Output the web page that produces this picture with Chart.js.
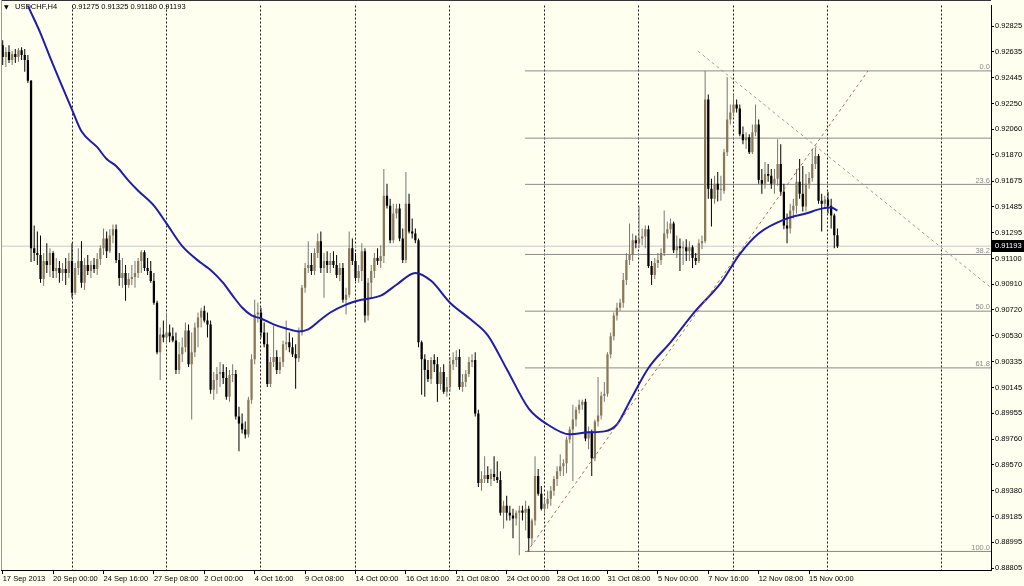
<!DOCTYPE html>
<html>
<head>
<meta charset="utf-8">
<script src="https://cdn.jsdelivr.net/npm/chart.js@4.4.1/dist/chart.umd.min.js"></script>
<style>
  html, body { margin: 0; padding: 0; background: #fffff0; }
</style>
</head>
<body>
<canvas id="chart" width="1024" height="586"></canvas>
<script>
// header
const symbolTitle = 'USDCHF,H4';
const titleQuote = '0.91275 0.91325 0.91180 0.91193';

// time axis: bar index of each label, and its text
const timeTickBars = [0, 16, 32, 48, 64, 80, 96, 112, 128, 144, 160, 176, 192, 208, 224, 240, 256];
const timeTickLabels = ['17 Sep 2013', '20 Sep 00:00', '24 Sep 16:00', '27 Sep 08:00', '2 Oct 00:00',
  '4 Oct 16:00', '9 Oct 08:00', '14 Oct 00:00', '16 Oct 16:00', '21 Oct 08:00', '24 Oct 00:00',
  '28 Oct 16:00', '31 Oct 08:00', '5 Nov 00:00', '7 Nov 16:00', '12 Nov 08:00', '15 Nov 00:00'];
// dashed vertical grid (bar index)
const gridBars = [22, 52, 82, 112, 142, 172, 202, 232, 262, 298];

// price axis
const priceTicks = [0.92825, 0.92635, 0.92445, 0.92250, 0.92060, 0.91870, 0.91675, 0.91485, 0.91295,
  0.91100, 0.90910, 0.90720, 0.90530, 0.90335, 0.90145, 0.89955, 0.89760, 0.89570, 0.89380,
  0.89185, 0.88995, 0.88805];

// H4 candles, one value per bar (bar 0 = 17 Sep 08:00)
const openP = [
  0.92685, 0.92597, 0.92634, 0.92575, 0.92619, 0.92597, 0.92648, 0.92612, 0.92575, 0.92420,
  0.91178, 0.91142, 0.91127, 0.90950, 0.91083, 0.91053, 0.91142, 0.91009, 0.91031, 0.90994,
  0.91024, 0.90994, 0.91083, 0.90848, 0.91031, 0.91083, 0.90921, 0.91053, 0.91009, 0.91053,
  0.91024, 0.91098, 0.91178, 0.91251, 0.91156, 0.91273, 0.91318, 0.91091, 0.90957, 0.90994,
  0.90906, 0.90950, 0.90965, 0.90994, 0.91083, 0.91149, 0.91031, 0.91009, 0.90935, 0.90774,
  0.90407, 0.90538, 0.90516, 0.90553, 0.90524, 0.90494, 0.90274, 0.90392, 0.90443, 0.90568,
  0.90318, 0.90407, 0.90590, 0.90664, 0.90715, 0.90642, 0.90612, 0.90127, 0.90200, 0.90244,
  0.90259, 0.90215, 0.90076, 0.90237, 0.90244, 0.89929, 0.89877, 0.89833, 0.89796, 0.90054,
  0.90355, 0.90686, 0.90701, 0.90553, 0.90465, 0.90171, 0.90333, 0.90370, 0.90274, 0.90333,
  0.90465, 0.90480, 0.90443, 0.90392, 0.90362, 0.90553, 0.90884, 0.91031, 0.91053, 0.91009,
  0.91142, 0.91229, 0.91031, 0.91083, 0.91053, 0.91083, 0.91053, 0.90979, 0.91031, 0.90796,
  0.90833, 0.91178, 0.91083, 0.90957, 0.91009, 0.91156, 0.90679, 0.90921, 0.91009, 0.91105,
  0.91083, 0.91120, 0.91568, 0.91494, 0.91237, 0.91436, 0.91472, 0.91251, 0.91091, 0.91509,
  0.91303, 0.91288, 0.91237, 0.90480, 0.90355, 0.90274, 0.90208, 0.90348, 0.90318, 0.90171,
  0.90259, 0.90113, 0.90149, 0.90318, 0.90348, 0.90370, 0.90149, 0.90186, 0.90244, 0.90333,
  0.90348, 0.89951, 0.89436, 0.89465, 0.89495, 0.89465, 0.89502, 0.89480, 0.89458, 0.89216,
  0.89267, 0.89216, 0.89194, 0.89172, 0.89216, 0.89231, 0.89216, 0.89245, 0.89025, 0.89157,
  0.89487, 0.89356, 0.89245, 0.89282, 0.89319, 0.89378, 0.89465, 0.89524, 0.89561, 0.89583,
  0.89759, 0.89833, 0.89907, 0.89980, 0.90017, 0.90039, 0.89767, 0.89818, 0.89620, 0.89892,
  0.89936, 0.90083, 0.90098, 0.90392, 0.90524, 0.90679, 0.90737, 0.90774, 0.90943, 0.91091,
  0.91127, 0.91237, 0.91215, 0.91251, 0.91266, 0.91318, 0.91046, 0.90979, 0.91068, 0.91091,
  0.91142, 0.91288, 0.91318, 0.91362, 0.91164, 0.91193, 0.91178, 0.91186, 0.91156, 0.91186,
  0.91105, 0.91083, 0.91215, 0.91229, 0.92281, 0.91619, 0.91546, 0.91656, 0.91612, 0.91605,
  0.91891, 0.92134, 0.92185, 0.92244, 0.92215, 0.92023, 0.91979, 0.92001, 0.91891, 0.92038,
  0.92097, 0.91685, 0.91656, 0.91729, 0.91715, 0.91656, 0.91693, 0.91803, 0.91597, 0.91347,
  0.91325, 0.91458, 0.91494, 0.91671, 0.91583, 0.91487, 0.91656, 0.91700, 0.91803, 0.91862,
  0.91531, 0.91509, 0.91539, 0.91494, 0.91421, 0.91275
];
const highP = [
  0.92721, 0.92670, 0.92685, 0.92641, 0.92656, 0.92663, 0.92670, 0.92656, 0.92612, 0.92427,
  0.91347, 0.91303, 0.91273, 0.91142, 0.91215, 0.91178, 0.91156, 0.91105, 0.91083, 0.91068,
  0.91105, 0.91142, 0.91215, 0.91068, 0.91178, 0.91229, 0.91105, 0.91127, 0.91083, 0.91105,
  0.91142, 0.91200, 0.91325, 0.91303, 0.91318, 0.91355, 0.91355, 0.91142, 0.91105, 0.91053,
  0.90994, 0.91053, 0.91083, 0.91105, 0.91164, 0.91164, 0.91105, 0.91083, 0.90994, 0.90789,
  0.90590, 0.90642, 0.90701, 0.90612, 0.90590, 0.90553, 0.90480, 0.90516, 0.90627, 0.90612,
  0.90553, 0.90627, 0.90701, 0.90737, 0.90752, 0.90701, 0.90642, 0.90259, 0.90296, 0.90333,
  0.90318, 0.90296, 0.90274, 0.90318, 0.90274, 0.90002, 0.89951, 0.89892, 0.90076, 0.90392,
  0.90796, 0.90774, 0.90737, 0.90627, 0.90553, 0.90370, 0.90605, 0.90421, 0.90370, 0.90494,
  0.90642, 0.90553, 0.90516, 0.90465, 0.90590, 0.90906, 0.91068, 0.91229, 0.91142, 0.91178,
  0.91288, 0.91303, 0.91142, 0.91156, 0.91142, 0.91156, 0.91127, 0.91068, 0.91068, 0.90884,
  0.91303, 0.91251, 0.91142, 0.91053, 0.91215, 0.91178, 0.90957, 0.91053, 0.91142, 0.91178,
  0.91200, 0.91766, 0.91656, 0.91546, 0.91509, 0.91509, 0.91509, 0.91325, 0.91744, 0.91583,
  0.91399, 0.91325, 0.91251, 0.90494, 0.90392, 0.90348, 0.90370, 0.90392, 0.90370, 0.90296,
  0.90318, 0.90222, 0.90370, 0.90407, 0.90421, 0.90429, 0.90244, 0.90274, 0.90370, 0.90392,
  0.90407, 0.89980, 0.89524, 0.89635, 0.89561, 0.89539, 0.89635, 0.89598, 0.89524, 0.89304,
  0.89341, 0.89267, 0.89245, 0.89231, 0.89267, 0.89267, 0.89304, 0.89267, 0.89172, 0.89635,
  0.89539, 0.89414, 0.89319, 0.89378, 0.89414, 0.89487, 0.89561, 0.89650, 0.89613, 0.89781,
  0.89855, 0.90017, 0.90002, 0.90054, 0.90054, 0.90061, 0.89855, 0.89833, 0.89907, 0.90222,
  0.90113, 0.90186, 0.90407, 0.90553, 0.90701, 0.90774, 0.90804, 0.90994, 0.91142, 0.91362,
  0.91288, 0.91273, 0.91494, 0.91325, 0.91347, 0.91347, 0.91083, 0.91105, 0.91142, 0.91178,
  0.91458, 0.91377, 0.91399, 0.91377, 0.91273, 0.91251, 0.91229, 0.91244, 0.91229, 0.91200,
  0.91142, 0.91244, 0.91273, 0.92494, 0.92318, 0.91693, 0.91715, 0.91744, 0.91715, 0.91914,
  0.92449, 0.92244, 0.92318, 0.92281, 0.92244, 0.92082, 0.92038, 0.92023, 0.92097, 0.92244,
  0.92134, 0.91766, 0.91818, 0.91803, 0.91766, 0.91766, 0.91987, 0.91950, 0.91656, 0.91436,
  0.91509, 0.91546, 0.91766, 0.91840, 0.91788, 0.91729, 0.91744, 0.91914, 0.91928, 0.91877,
  0.91583, 0.91568, 0.91597, 0.91546, 0.91436, 0.91325
];
const lowP = [
  0.92538, 0.92523, 0.92553, 0.92538, 0.92553, 0.92561, 0.92575, 0.92487, 0.92405, 0.91076,
  0.91083, 0.91053, 0.90921, 0.90899, 0.90994, 0.90965, 0.90957, 0.90957, 0.90921, 0.90935,
  0.90906, 0.90957, 0.90811, 0.90833, 0.90979, 0.90884, 0.90869, 0.90979, 0.90957, 0.90994,
  0.90979, 0.91053, 0.91127, 0.91105, 0.91142, 0.91215, 0.91068, 0.90899, 0.90884, 0.90789,
  0.90884, 0.90906, 0.90884, 0.90957, 0.90994, 0.91009, 0.90979, 0.90921, 0.90759, 0.90392,
  0.90200, 0.90480, 0.90465, 0.90480, 0.90480, 0.90244, 0.90244, 0.90333, 0.90407, 0.90296,
  0.89907, 0.90370, 0.90443, 0.90590, 0.90627, 0.90516, 0.90098, 0.90054, 0.90098, 0.90149,
  0.90171, 0.90054, 0.90039, 0.90186, 0.89907, 0.89672, 0.89803, 0.89767, 0.89774, 0.90024,
  0.90318, 0.90627, 0.90516, 0.90443, 0.90149, 0.90149, 0.90296, 0.90244, 0.90244, 0.90296,
  0.90421, 0.90407, 0.90370, 0.90135, 0.90333, 0.90531, 0.90848, 0.90994, 0.90979, 0.90979,
  0.91105, 0.90994, 0.90811, 0.90994, 0.90994, 0.91031, 0.90957, 0.90935, 0.90774, 0.90686,
  0.90811, 0.91053, 0.90935, 0.90921, 0.90935, 0.90627, 0.90642, 0.90811, 0.90957, 0.91053,
  0.91031, 0.91068, 0.91472, 0.91215, 0.91215, 0.91399, 0.91229, 0.91068, 0.91068, 0.91288,
  0.91251, 0.91215, 0.90443, 0.90091, 0.90076, 0.90186, 0.90171, 0.90259, 0.90039, 0.90127,
  0.90098, 0.90076, 0.90113, 0.90274, 0.90296, 0.90127, 0.90113, 0.90149, 0.90222, 0.90296,
  0.89929, 0.89407, 0.89378, 0.89436, 0.89436, 0.89414, 0.89451, 0.89436, 0.89194, 0.89098,
  0.89157, 0.89157, 0.89025, 0.89120, 0.88900, 0.89157, 0.89083, 0.88928, 0.88974, 0.89120,
  0.89341, 0.89231, 0.89216, 0.89245, 0.89267, 0.89341, 0.89414, 0.89487, 0.89487, 0.89509,
  0.89730, 0.89451, 0.89855, 0.89951, 0.89980, 0.89745, 0.89686, 0.89487, 0.89598, 0.89855,
  0.89907, 0.90039, 0.90076, 0.90362, 0.90494, 0.90642, 0.90715, 0.90737, 0.90906, 0.91053,
  0.91083, 0.91178, 0.91178, 0.91200, 0.91178, 0.91031, 0.90906, 0.90950, 0.91031, 0.91053,
  0.91120, 0.91251, 0.91288, 0.91142, 0.91105, 0.91009, 0.91053, 0.91083, 0.91083, 0.91031,
  0.91053, 0.91068, 0.91171, 0.91215, 0.91546, 0.91340, 0.91509, 0.91524, 0.91531, 0.91583,
  0.91862, 0.92097, 0.92156, 0.92185, 0.92009, 0.91950, 0.91914, 0.91877, 0.91877, 0.92009,
  0.91656, 0.91583, 0.91619, 0.91671, 0.91619, 0.91583, 0.91641, 0.91568, 0.91318, 0.91215,
  0.91288, 0.91399, 0.91436, 0.91546, 0.91450, 0.91450, 0.91619, 0.91671, 0.91766, 0.91509,
  0.91303, 0.91472, 0.91436, 0.91325, 0.91178, 0.91180
];
const closeP = [
  0.92597, 0.92634, 0.92575, 0.92619, 0.92597, 0.92648, 0.92612, 0.92575, 0.92420, 0.91178,
  0.91142, 0.91127, 0.90950, 0.91083, 0.91053, 0.91142, 0.91009, 0.91031, 0.90994, 0.91024,
  0.90994, 0.91083, 0.90848, 0.91031, 0.91083, 0.90921, 0.91053, 0.91009, 0.91053, 0.91024,
  0.91098, 0.91178, 0.91251, 0.91156, 0.91273, 0.91318, 0.91091, 0.90957, 0.90994, 0.90906,
  0.90950, 0.90965, 0.90994, 0.91083, 0.91149, 0.91031, 0.91009, 0.90935, 0.90774, 0.90407,
  0.90538, 0.90516, 0.90553, 0.90524, 0.90494, 0.90274, 0.90392, 0.90443, 0.90568, 0.90318,
  0.90407, 0.90590, 0.90664, 0.90715, 0.90642, 0.90612, 0.90127, 0.90200, 0.90244, 0.90259,
  0.90215, 0.90076, 0.90237, 0.90244, 0.89929, 0.89877, 0.89833, 0.89796, 0.90054, 0.90355,
  0.90686, 0.90701, 0.90553, 0.90465, 0.90171, 0.90333, 0.90370, 0.90274, 0.90333, 0.90465,
  0.90480, 0.90443, 0.90392, 0.90362, 0.90553, 0.90884, 0.91031, 0.91053, 0.91009, 0.91142,
  0.91229, 0.91031, 0.91083, 0.91053, 0.91083, 0.91053, 0.90979, 0.91031, 0.90796, 0.90833,
  0.91178, 0.91083, 0.90957, 0.91009, 0.91156, 0.90679, 0.90921, 0.91009, 0.91105, 0.91083,
  0.91120, 0.91568, 0.91494, 0.91237, 0.91436, 0.91472, 0.91251, 0.91091, 0.91509, 0.91303,
  0.91288, 0.91237, 0.90480, 0.90355, 0.90274, 0.90208, 0.90348, 0.90318, 0.90171, 0.90259,
  0.90113, 0.90149, 0.90318, 0.90348, 0.90370, 0.90149, 0.90186, 0.90244, 0.90333, 0.90348,
  0.89951, 0.89436, 0.89465, 0.89495, 0.89465, 0.89502, 0.89480, 0.89458, 0.89216, 0.89267,
  0.89216, 0.89194, 0.89172, 0.89216, 0.89231, 0.89216, 0.89245, 0.89025, 0.89157, 0.89487,
  0.89356, 0.89245, 0.89282, 0.89319, 0.89378, 0.89465, 0.89524, 0.89561, 0.89583, 0.89759,
  0.89833, 0.89907, 0.89980, 0.90017, 0.90039, 0.89767, 0.89818, 0.89620, 0.89892, 0.89936,
  0.90083, 0.90098, 0.90392, 0.90524, 0.90679, 0.90737, 0.90774, 0.90943, 0.91091, 0.91127,
  0.91237, 0.91215, 0.91251, 0.91266, 0.91318, 0.91046, 0.90979, 0.91068, 0.91091, 0.91142,
  0.91288, 0.91318, 0.91362, 0.91164, 0.91193, 0.91178, 0.91186, 0.91156, 0.91186, 0.91105,
  0.91083, 0.91215, 0.91229, 0.92281, 0.91619, 0.91546, 0.91656, 0.91612, 0.91619, 0.91891,
  0.92134, 0.92185, 0.92244, 0.92215, 0.92023, 0.91979, 0.92001, 0.91891, 0.92038, 0.92097,
  0.91685, 0.91656, 0.91729, 0.91715, 0.91656, 0.91693, 0.91803, 0.91597, 0.91347, 0.91325,
  0.91458, 0.91494, 0.91671, 0.91583, 0.91487, 0.91656, 0.91700, 0.91803, 0.91862, 0.91531,
  0.91509, 0.91539, 0.91494, 0.91421, 0.91275, 0.91193
];

// moving average, read at these bars
const maBars = [6, 8, 12, 15, 18, 22, 25, 30, 33, 36, 40, 43, 48, 52, 57, 63, 66, 70, 73, 76, 79,
  82, 86, 90, 94, 97, 101, 104, 109, 114, 120, 125, 131, 136, 142, 149, 154, 160, 167, 173, 180,
  186, 191, 195, 199, 205, 212, 220, 228, 234, 240, 249, 255, 260, 263, 265];
const maValues = [0.93090, 0.92979, 0.92773, 0.92597, 0.92428, 0.92207, 0.92046, 0.91928, 0.91840,
  0.91788, 0.91678, 0.91605, 0.91494, 0.91362, 0.91193, 0.91068, 0.91017, 0.90921, 0.90826, 0.90738,
  0.90679, 0.90657, 0.90613, 0.90583, 0.90561, 0.90576, 0.90649, 0.90701, 0.90760, 0.90796, 0.90826,
  0.90907, 0.90995, 0.90936, 0.90774, 0.90642, 0.90532, 0.90282, 0.89988, 0.89870, 0.89797, 0.89812,
  0.89819, 0.89870, 0.90039, 0.90289, 0.90480, 0.90715, 0.90921, 0.91135, 0.91288, 0.91399, 0.91436,
  0.91472, 0.91480, 0.91458];

// fibonacci retracement
const fibLevels = [0.92494, 0.91995, 0.91652, 0.91132, 0.90711, 0.90290, 0.88928];
const fibLabels = ['0.0', '', '23.6', '38.2', '50.0', '61.8', '100.0'];
const fibFromBar = 165.8;
const fibToBar = 313.75;

// trend lines (bar, price)
const riseTrend = [{ x: 166.4, y: 0.88923 }, { x: 274.7, y: 0.92494 }];
const fallTrend = [{ x: 220.7, y: 0.92641 }, { x: 313.4, y: 0.90892 }];
const bidPrice = 0.91193;

const xMin = -0.54, xMax = 313.75;
const yMin = 0.887903, yMax = 0.929793;

Chart.defaults.font.family = '"Liberation Sans", Arial, sans-serif';
Chart.defaults.font.size = 7.5;
Chart.defaults.color = '#000';

const isBull = i => closeP[i] >= openP[i];
const wicks = openP.map((o, i) => ({ x: i, y: [lowP[i], highP[i]] }));
const bodies = openP.map((o, i) => ({ x: i, y: [o, closeP[i]] }));

const flatLine = (data, color, order, extra) => Object.assign({
  type: 'line', data, borderColor: color, borderWidth: 1, pointRadius: 0,
  xAxisID: 'x', yAxisID: 'y', order
}, extra || {});

const datasets = [
  ...fibLevels.map(v => flatLine([{ x: fibFromBar, y: v }, { x: fibToBar, y: v }], '#8a8a8a', 20)),
  flatLine([{ x: xMin, y: bidPrice }, { x: xMax, y: bidPrice }], '#c8c8c8', 19),
  {
    label: 'wick', data: wicks, xAxisID: 'x', yAxisID: 'y', order: 15,
    grouped: false, maxBarThickness: 1,
    backgroundColor: ctx => isBull(ctx.dataIndex) ? '#777777' : '#000000'
  },
  {
    label: 'body', data: bodies, xAxisID: 'x', yAxisID: 'y', order: 14,
    grouped: false, maxBarThickness: 3, minBarLength: 1,
    backgroundColor: ctx => isBull(ctx.dataIndex) ? '#8b785b' : '#000000'
  },
  flatLine(maBars.map((b, i) => ({ x: b, y: maValues[i] })), '#1e1ea8', 10,
    { borderWidth: 2, cubicInterpolationMode: 'monotone' }),
  flatLine(riseTrend, '#b36a5c', 5, { borderDash: [3, 3] }),
  flatLine(fallTrend, '#a8998a', 5, { borderDash: [3, 3] })
];

const chartDecor = {
  id: 'chartDecor',
  beforeDatasetsDraw(chart) {
    const ctx = chart.ctx;
    ctx.save();
    ctx.fillStyle = '#000';
    ctx.textBaseline = 'middle';
    ctx.font = '6px "DejaVu Sans"';
    ctx.fillText('▼', 4, 7);
    ctx.font = '7.5px "Liberation Sans"';
    ctx.fillText(symbolTitle, 15, 7);
    ctx.fillText(titleQuote, 72, 7);
    ctx.restore();
  },
  afterDatasetsDraw(chart) {
    const { ctx, chartArea: a, scales: { y } } = chart;
    ctx.save();
    ctx.font = '7.5px "Liberation Sans"';
    ctx.fillStyle = '#8a8a8a';
    ctx.textAlign = 'right';
    ctx.textBaseline = 'bottom';
    fibLevels.forEach((v, i) => {
      if (fibLabels[i]) ctx.fillText(fibLabels[i], a.right - 1, y.getPixelForValue(v));
    });
    ctx.restore();
  },
  afterDraw(chart) {
    const { ctx, chartArea: a, scales: { y } } = chart;
    ctx.save();
    // frame top / left
    ctx.lineWidth = 1;
    ctx.strokeStyle = '#333';
    ctx.beginPath(); ctx.moveTo(a.left, 0.5); ctx.lineTo(a.right, 0.5); ctx.stroke();
    ctx.strokeStyle = '#9a9a9a';
    ctx.beginPath(); ctx.moveTo(a.left + 0.5, 0); ctx.lineTo(a.left + 0.5, a.bottom); ctx.stroke();
    // current price box
    const py = Math.round(y.getPixelForValue(bidPrice));
    ctx.fillStyle = '#000';
    ctx.fillRect(a.right + 1, py - 6, 1024 - a.right - 1, 12);
    ctx.fillStyle = '#fff';
    ctx.font = '7.5px "Liberation Sans"';
    ctx.textBaseline = 'middle';
    ctx.fillText(bidPrice.toFixed(5), a.right + 4, py);
    ctx.restore();
  }
};

new Chart(document.getElementById('chart'), {
  type: 'bar',
  data: { datasets },
  plugins: [chartDecor],
  options: {
    responsive: false,
    animation: false,
    events: [],
    layout: { padding: { left: 1, top: 0, right: 0, bottom: 0 }, autoPadding: false },
    plugins: { legend: { display: false }, tooltip: { enabled: false } },
    scales: {
      x: {
        type: 'linear', position: 'bottom', min: xMin, max: xMax, offset: false,
        afterBuildTicks: s => { s.ticks = timeTickBars.map(v => ({ value: v })); },
        afterFit: s => { s.height = 16; },
        grid: { offset: false, drawOnChartArea: false, drawTicks: true, tickLength: 4, color: '#000' },
        border: { display: true, color: '#000' },
        ticks: {
          autoSkip: false, maxRotation: 0, align: 'start', padding: 0,
          callback: (v, i) => timeTickLabels[i]
        }
      },
      xg: {
        type: 'linear', position: 'bottom', min: xMin, max: xMax, offset: false,
        afterBuildTicks: s => { s.ticks = gridBars.map(v => ({ value: v })); },
        afterFit: s => { s.height = 0; },
        grid: { offset: false, drawTicks: false, color: '#1a1a1a' },
        border: { display: false, dash: [2, 2] },
        ticks: { display: false }
      },
      y: {
        type: 'linear', position: 'right', min: yMin, max: yMax,
        afterBuildTicks: s => { s.ticks = priceTicks.map(v => ({ value: v })); },
        afterFit: s => { s.width = 33; },
        grid: { drawOnChartArea: false, drawTicks: true, tickLength: 3, color: '#000' },
        border: { display: true, color: '#000' },
        ticks: { autoSkip: false, padding: 1, callback: v => v.toFixed(5) }
      }
    }
  }
});
</script>
</body>
</html>
